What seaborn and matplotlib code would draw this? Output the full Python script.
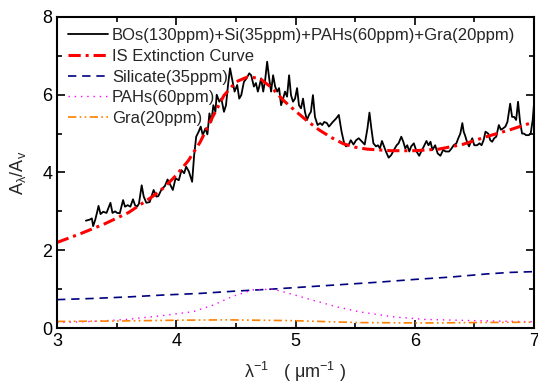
import numpy as np
import pandas as pd
import matplotlib
matplotlib.use("Agg")
import matplotlib.pyplot as plt
import seaborn as sns
from matplotlib.ticker import MultipleLocator

# ---- data ----
bos_x = [3.242, 3.276, 3.292, 3.303, 3.320, 3.337, 3.348, 3.365, 3.387, 3.415, 3.448, 3.465,
         3.487, 3.504, 3.526, 3.554, 3.570, 3.593, 3.615, 3.637, 3.654, 3.671, 3.687, 3.710,
         3.727, 3.749, 3.777, 3.810, 3.833, 3.849, 3.877, 3.904, 3.927, 3.944, 3.971, 3.994,
         4.021, 4.044, 4.066, 4.083, 4.105, 4.133, 4.150, 4.167, 4.188, 4.205, 4.222, 4.244,
         4.261, 4.278, 4.294, 4.311, 4.328, 4.339, 4.361, 4.378, 4.400, 4.417, 4.434, 4.451,
         4.467, 4.489, 4.511, 4.528, 4.545, 4.567, 4.589, 4.612, 4.628, 4.651, 4.668, 4.684,
         4.695, 4.712, 4.729, 4.745, 4.762, 4.779, 4.795, 4.812, 4.829, 4.846, 4.862, 4.879,
         4.896, 4.912, 4.929, 4.946, 4.962, 4.979, 4.996, 5.013, 5.029, 5.046, 5.063, 5.079,
         5.096, 5.113, 5.129, 5.146, 5.163, 5.185, 5.207, 5.224, 5.241, 5.263, 5.280, 5.313,
         5.341, 5.363, 5.386, 5.408, 5.424, 5.447, 5.463, 5.486, 5.508, 5.530, 5.558, 5.580,
         5.603, 5.620, 5.636, 5.653, 5.675, 5.691, 5.708, 5.725, 5.742, 5.758, 5.781, 5.803,
         5.825, 5.848, 5.864, 5.887, 5.904, 5.920, 5.937, 5.954, 5.970, 5.992, 6.015, 6.037,
         6.054, 6.076, 6.098, 6.115, 6.132, 6.148, 6.171, 6.192, 6.215, 6.238, 6.259, 6.288,
         6.309, 6.326, 6.349, 6.365, 6.382, 6.399, 6.410, 6.421, 6.438, 6.455, 6.471, 6.482,
         6.499, 6.522, 6.543, 6.560, 6.577, 6.593, 6.616, 6.633, 6.649, 6.666, 6.683, 6.705,
         6.722, 6.739, 6.760, 6.777, 6.800, 6.816, 6.833, 6.850, 6.866, 6.883, 6.900, 6.916,
         6.933, 6.956, 6.972, 6.989, 7.000]
bos_y = [2.76, 2.79, 2.82, 2.62, 2.78, 2.99, 3.14, 2.93, 2.99, 2.96, 3.22, 2.96,
         3.00, 2.96, 2.95, 3.29, 3.12, 3.16, 3.12, 3.31, 3.16, 3.12, 3.20, 3.67,
         3.38, 3.22, 3.24, 3.55, 3.38, 3.39, 3.57, 3.65, 3.82, 3.72, 3.55, 3.85,
         3.80, 4.06, 3.98, 4.15, 4.03, 3.76, 4.45, 4.92, 5.05, 5.18, 4.96, 5.13,
         4.98, 5.52, 5.30, 5.73, 5.56, 6.00, 5.82, 5.90, 5.56, 5.73, 6.25, 6.68,
         6.42, 6.08, 6.25, 5.90, 5.99, 6.33, 6.42, 6.55, 6.50, 6.21, 6.30, 6.08,
         6.20, 6.42, 6.08, 6.37, 6.85, 6.42, 6.08, 6.50, 6.21, 6.08, 6.17, 5.73,
         5.90, 6.08, 5.95, 6.50, 5.99, 5.82, 5.90, 6.17, 5.73, 5.65, 5.90, 5.56,
         5.35, 5.48, 5.56, 5.99, 5.43, 5.22, 5.27, 5.22, 5.30, 5.27, 5.18, 5.30,
         5.39, 5.48, 5.05, 4.75, 4.67, 4.72, 4.83, 4.72, 4.83, 4.88, 4.79, 4.72,
         5.13, 5.54, 5.13, 4.75, 4.67, 4.70, 4.62, 4.81, 4.67, 4.54, 4.38, 4.45,
         4.58, 4.70, 4.75, 4.92, 4.79, 4.62, 4.70, 4.54, 4.67, 4.75, 4.54, 4.43,
         4.54, 4.67, 4.81, 4.70, 4.79, 4.58, 4.70, 4.49, 4.43, 4.58, 4.54, 4.54,
         4.62, 4.70, 4.75, 4.88, 5.00, 5.27, 5.05, 4.96, 4.79, 4.67, 4.79, 4.88,
         4.70, 4.70, 4.75, 4.70, 4.83, 5.05, 5.00, 4.83, 4.79, 4.88, 4.92, 5.22,
         5.10, 5.13, 5.18, 5.30, 5.77, 5.43, 5.43, 5.35, 5.82, 5.30, 5.00, 5.00,
         4.96, 4.96, 5.00, 5.35, 5.77]

is_x = [3.0, 3.2, 3.4, 3.6, 3.8, 3.9, 4.0, 4.1, 4.2, 4.3, 4.4, 4.5, 4.6, 4.7, 4.8, 4.9,
        5.0, 5.1, 5.2, 5.3, 5.4, 5.5, 5.6, 5.8, 6.0, 6.2, 6.4, 6.6, 6.8, 7.0]
is_y = [2.20, 2.43, 2.68, 2.97, 3.38, 3.62, 3.93, 4.30, 4.78, 5.40, 5.98, 6.33, 6.46, 6.42,
        6.18, 5.85, 5.58, 5.32, 5.09, 4.90, 4.74, 4.65, 4.60, 4.56, 4.56, 4.60, 4.72, 4.92,
        5.10, 5.30]

sil_x = [3.0, 3.3, 3.6, 3.9, 4.2, 4.5, 4.8, 5.1, 5.4, 5.7, 6.0, 6.3, 6.6, 6.8, 7.0]
sil_y = [0.73, 0.76, 0.80, 0.85, 0.89, 0.95, 1.00, 1.06, 1.12, 1.18, 1.25, 1.31, 1.39, 1.43, 1.45]

pah_x = [3.0, 3.3, 3.58, 3.86, 4.14, 4.31, 4.47, 4.64, 4.81, 4.97, 5.14, 5.34, 5.53, 5.81,
         6.09, 6.5, 7.0]
pah_y = [0.14, 0.17, 0.22, 0.31, 0.42, 0.59, 0.81, 0.98, 1.00, 0.87, 0.72, 0.55, 0.42, 0.29,
         0.22, 0.19, 0.16]

gra_x = [3.0, 3.5, 4.0, 4.42, 4.97, 5.53, 6.09, 6.5, 7.0]
gra_y = [0.17, 0.18, 0.20, 0.21, 0.19, 0.14, 0.13, 0.14, 0.15]

labels = ["BOs(130ppm)+Si(35ppm)+PAHs(60ppm)+Gra(20ppm)", "IS Extinction Curve",
          "Silicate(35ppm)", "PAHs(60ppm)", "Gra(20ppm)"]

# ---- style ----
sns.set_style("ticks")
plt.rcParams["font.family"] = ["Liberation Sans", "DejaVu Sans"]
plt.rcParams["mathtext.default"] = "regular"

fig = plt.figure(figsize=(5.38, 3.85), dpi=100)
ax = fig.add_axes([0.106, 0.148, 0.8866, 0.808])

series = [
    (bos_x, bos_y, dict(color="black", lw=1.3, linestyle="-")),
    (is_x, is_y, dict(color="#ff0000", lw=2.2, linestyle=(0, (4, 1.6, 1, 1.6)))),
    (sil_x, sil_y, dict(color="#000080", lw=1.2, linestyle=(0, (5, 3.5)))),
    (pah_x, pah_y, dict(color="#ff00ff", lw=1.0, linestyle=(0, (1, 3.5)))),
    (gra_x, gra_y, dict(color="#ff8000", lw=1.2, linestyle=(0, (5, 2, 1, 2, 1, 2)))),
]
for (xs, ys, kw), lab in zip(series, labels):
    df = pd.DataFrame({"x": xs, "y": ys})
    sns.lineplot(data=df, x="x", y="y", ax=ax, label=lab, **kw)

ax.set_xlim(3, 7)
ax.set_ylim(0, 8)
ax.xaxis.set_major_locator(MultipleLocator(1))
ax.xaxis.set_minor_locator(MultipleLocator(0.5))
ax.yaxis.set_major_locator(MultipleLocator(2))
ax.yaxis.set_minor_locator(MultipleLocator(1))
ax.tick_params(which="both", direction="in", top=True, right=True, labelsize=13,
               width=1.2, colors="black")
ax.tick_params(which="major", length=6)
ax.tick_params(which="minor", length=3.5)
for sp in ax.spines.values():
    sp.set_linewidth(1.5)
    sp.set_color("black")

ax.set_xlabel(r"λ$^{-1}$   ( μm$^{-1}$ )", fontsize=13, labelpad=7)
ax.set_ylabel(r"A$_{λ}$/A$_{v}$", fontsize=13, labelpad=10)

leg = ax.legend(loc="upper left", bbox_to_anchor=(0.01, 0.985), frameon=False,
                fontsize=12, handlelength=2.35, handletextpad=0.25, labelspacing=0.34,
                borderaxespad=0.0)

fig.savefig("out.png", dpi=100)
